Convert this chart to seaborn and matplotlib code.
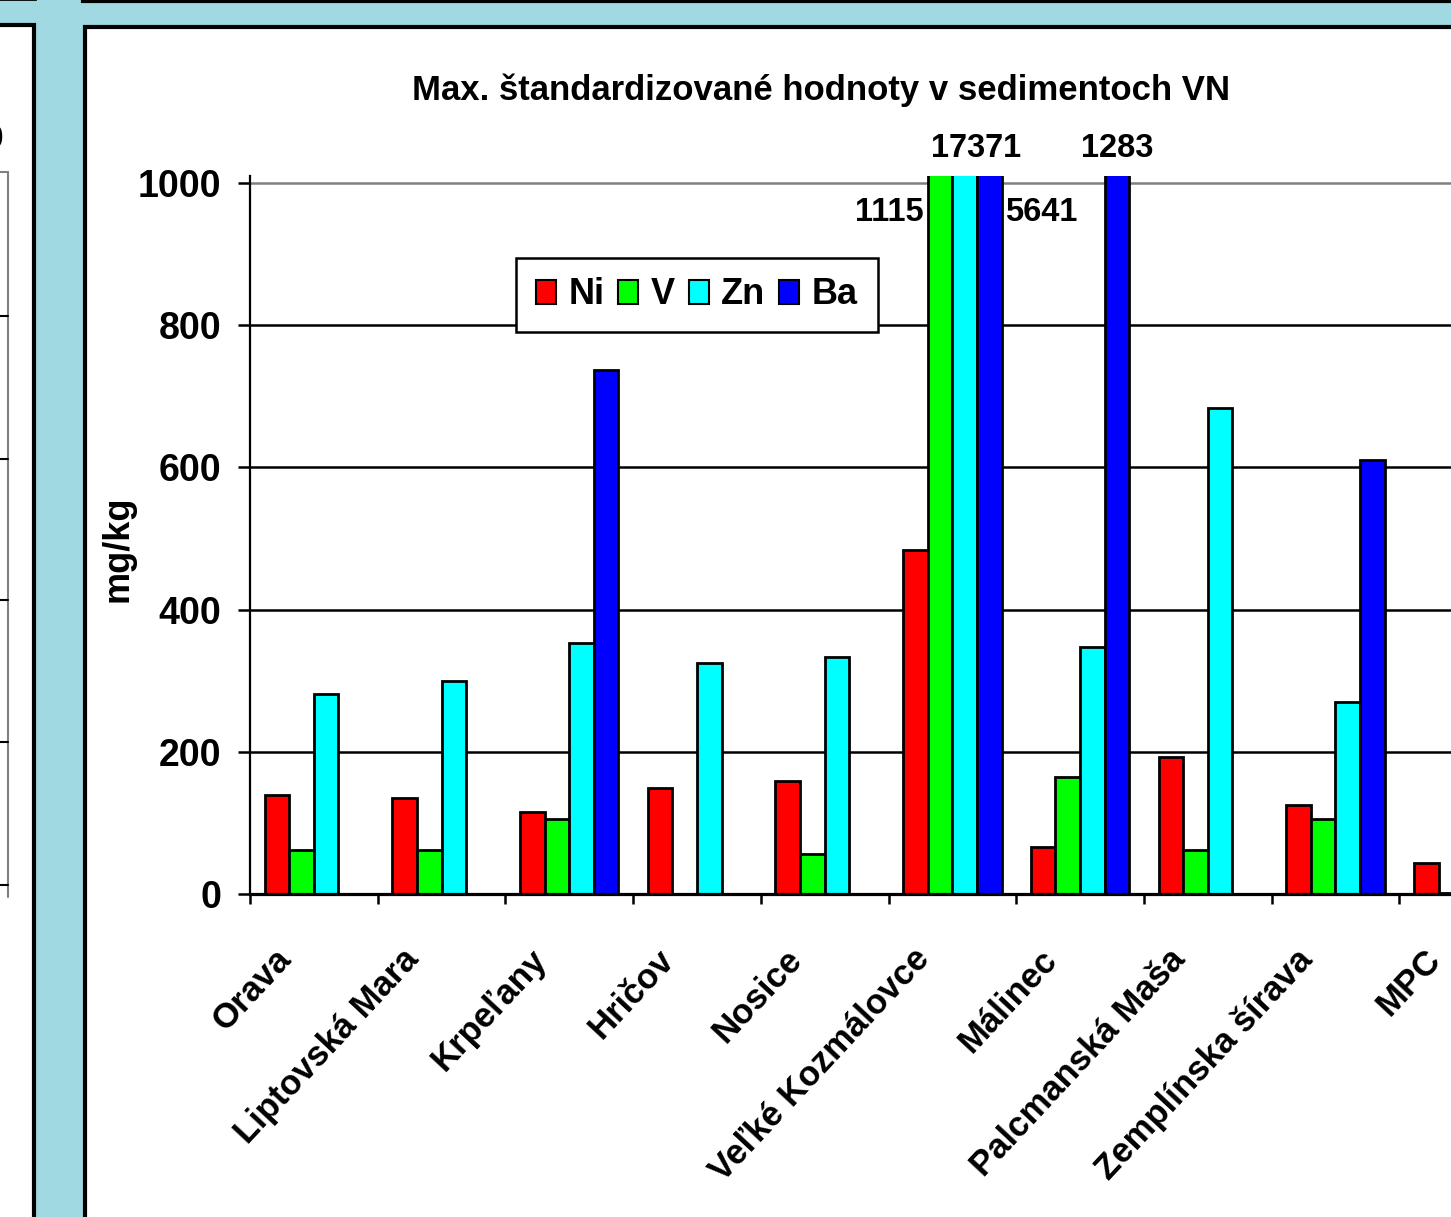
import numpy as np
import pandas as pd
import seaborn as sns
import matplotlib.pyplot as plt
import matplotlib.transforms as mtransforms
from matplotlib.patches import Rectangle, Patch
from matplotlib.lines import Line2D

# hodnoty odcitane z grafu (mg/kg)
lokality = ['Orava', 'Liptovská Mara', 'Krpeľany', 'Hričov', 'Nosice',
            'Veľké Kozmálovce', 'Málinec', 'Palcmanská Maša', 'Zemplínska šírava', 'MPC']
prvky = ['Ni', 'V', 'Zn', 'Ba']
ni = [139, 135, 115, 149, 159, 484, 66, 193, 125, 44]
v = [62, 62, 105, np.nan, 56, 1115, 165, 62, 105, 2]
zn = [281, 300, 353, 325, 333, 17371, 347, 684, 270, np.nan]
ba = [np.nan, np.nan, 737, np.nan, np.nan, 5641, 1283, np.nan, 610, np.nan]
farby = ['#ff0000', '#00ff00', '#00ffff', '#0000ff']

# popisky pre stlpce, ktore presahuju os (lokalita, prvok, kde, posun)
popisky = [('Veľké Kozmálovce', 'V', 'left', 0),
           ('Veľké Kozmálovce', 'Zn', 'top', 0.09),
           ('Veľké Kozmálovce', 'Ba', 'right', 0),
           ('Málinec', 'Ba', 'top', 0)]

df = pd.DataFrame({'Lokalita': lokality, 'Ni': ni, 'V': v, 'Zn': zn, 'Ba': ba})
hodnoty = df.set_index('Lokalita')
df = df.melt(id_vars='Lokalita', var_name='Prvok', value_name='mg/kg').dropna()

sns.set_theme(style='white')
plt.rcParams['font.family'] = ['Liberation Sans', 'DejaVu Sans']
plt.rcParams['font.weight'] = 'bold'
for k in ['text.color', 'axes.labelcolor', 'xtick.color', 'ytick.color']:
    plt.rcParams[k] = 'black'

W, H = 1451, 1217
fig = plt.figure(figsize=(W / 100, H / 100), dpi=100)
fig.patch.set_facecolor('#a1d9e3')


def box(x0, y0, x1, y1, **kw):
    # pixely od laveho horneho rohu
    fig.add_artist(Rectangle((x0 / W, 1 - y1 / H), (x1 - x0) / W, (y1 - y0) / H,
                             transform=fig.transFigure, zorder=-5, **kw))


def ciara(xs, ys, **kw):
    fig.add_artist(Line2D([x / W for x in xs], [1 - y / H for y in ys],
                          transform=fig.transFigure, zorder=-4, **kw))


# okolie snimky
box(85, 27, 1700, 1500, facecolor='white', edgecolor='black', linewidth=3)
box(-60, 25, 34, 1500, facecolor='white', edgecolor='black', linewidth=3)
box(83, -100, 1700, 1, facecolor='white', edgecolor='black', linewidth=3)
box(-60, -100, 35, -1, facecolor='white', edgecolor='black', linewidth=2)
ciara([8, 8], [172, 897], color='#808080', linewidth=1.5)
ciara([0, 8], [172, 172], color='#808080', linewidth=1.5)
for yy in [316, 459, 600, 742, 885]:
    ciara([0, 8], [yy, yy], color='black', linewidth=1.5)
fig.text(3 / W, 1 - 140 / H, '0', fontsize=24, ha='right', va='center')

ax = fig.add_axes([250 / W, 1 - 894 / H, 1277 / W, 718 / H])
ax.set_facecolor('white')
sns.barplot(data=df, x='Lokalita', y='mg/kg', hue='Prvok', order=lokality, hue_order=prvky,
            palette=farby, saturation=1, width=0.77, edgecolor='black', linewidth=2.0,
            errorbar=None, legend=False, ax=ax)

ax.set_xlim(-0.5, len(lokality) - 0.5)
ax.set_ylim(0, 1010)
ax.set_yticks(range(0, 1001, 200))
ax.set_xlabel('')
ax.set_ylabel('')
ax.grid(axis='y', color='black', linewidth=1.8)
ax.set_axisbelow(True)
ax.yaxis.get_gridlines()[-1].set_color('#808080')
for s in ['top', 'right']:
    ax.spines[s].set_visible(False)
ax.spines['left'].set_color('black')
ax.spines['left'].set_linewidth(1.6)
ax.spines['bottom'].set_color('black')
ax.spines['bottom'].set_linewidth(2.3)

ax.tick_params(axis='y', which='major', direction='out', length=8.6, width=1.8,
               color='black', labelsize=27, pad=12, left=True)
ax.set_xticks(np.arange(-0.5, len(lokality), 1), minor=True)
ax.tick_params(axis='x', which='minor', direction='out', length=7.5, width=1.8,
               color='black', bottom=True)
ax.tick_params(axis='x', which='major', length=0, labelsize=25, pad=35)
posun = mtransforms.ScaledTranslation(-16 / 100, 0, fig.dpi_scale_trans)
for lab in ax.get_xticklabels():
    lab.set_rotation(47)
    lab.set_ha('right')
    lab.set_transform(lab.get_transform() + posun)
for lab in ax.get_yticklabels():
    lab.set_fontweight('bold')

sirka = 0.77 / len(prvky)
for lok, prvok, strana, dx in popisky:
    x = lokality.index(lok) + (prvky.index(prvok) - 1.5) * sirka + dx
    txt = f'{hodnoty.loc[lok, prvok]:.0f}'
    if strana == 'top':
        ax.text(x, 1049, txt, ha='center', va='center', fontsize=23.5, clip_on=False)
    elif strana == 'left':
        ax.text(x - sirka / 2 - 0.03, 958, txt, ha='right', va='center', fontsize=23.5)
    else:
        ax.text(x + sirka / 2 + 0.03, 958, txt, ha='left', va='center', fontsize=23.5)

fig.text(821 / W, 1 - 90 / H, 'Max. štandardizované hodnoty v sedimentoch VN',
         ha='center', va='center', fontsize=25)
fig.text(118 / W, 1 - 549 / H, 'mg/kg', rotation=90, ha='center', va='center', fontsize=26)

ruky = [Patch(facecolor=c, edgecolor='black', linewidth=1.5) for c in farby]
leg = fig.legend(ruky, prvky, loc='center', bbox_to_anchor=(697 / W, 1 - 295 / H), ncol=4,
                 prop={'size': 26, 'weight': 'bold'}, frameon=True, fancybox=False,
                 edgecolor='black', framealpha=1, handlelength=0.55, handleheight=0.65,
                 handletextpad=0.35, columnspacing=0.38, borderpad=0.55)
leg.get_frame().set_linewidth(1.8)

fig.savefig('out.png', dpi=100)
